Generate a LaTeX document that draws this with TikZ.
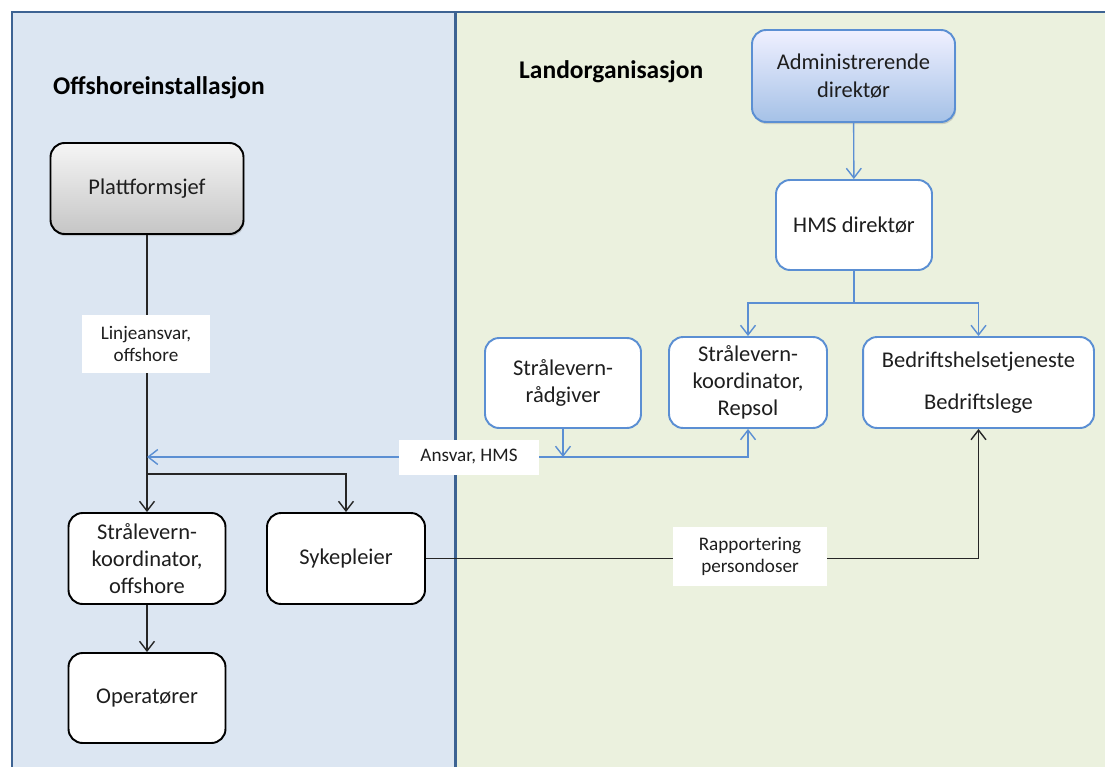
\documentclass[tikz,border=0pt]{standalone}
\usepackage{fontspec}
\setmainfont{Carlito}
\usetikzlibrary{arrows.meta,shadows}

\definecolor{offbg}{HTML}{DCE6F2}
\definecolor{landbg}{HTML}{EBF1DE}
\definecolor{framecol}{HTML}{3D6393}
\definecolor{hmsblue}{HTML}{5B8FD3}
\definecolor{txtcol}{HTML}{1E1E1E}

\begin{document}
\begin{tikzpicture}[x=0.02cm, y=-0.02cm, >={Straight Barb[length=5.5pt,width=8.5pt]},
  box/.style={draw, rounded corners=8pt, align=center, fill=white, line width=1.1pt,
    minimum width=3.14cm, minimum height=1.82cm, text=txtcol, font=\fontsize{12.8}{15.5}\selectfont},
  offbox/.style={box, draw=black},
  landbox/.style={box, draw=hmsblue},
  lbl/.style={fill=white, align=center, inner sep=0pt, text=txtcol, font=\fontsize{10.9}{13}\selectfont},
  heading/.style={anchor=west, text=black, font=\bfseries\fontsize{14.5}{17}\selectfont},
  line/.style={->, line width=0.8pt, black!85},
  hmsline/.style={->, line width=0.8pt, hmsblue}]

  % canvas and the two areas
  \useasboundingbox (0,0) rectangle (1105,767);
  \clip (0,0) rectangle (1105,767);
  \fill[white] (0,0) rectangle (1105,767);
  \fill[offbg] (12,12) rectangle (455,800);
  \fill[landbg] (455,12) rectangle (1120,800);
  \draw[framecol, line width=1.4pt] (12,800) -- (12,12) -- (1120,12);
  \draw[framecol, line width=1.7pt] (455,12) -- (455,800);

  \node[heading] (offhead) at (47,88) {Offshoreinstallasjon};
  \node[heading] (landhead) at (513,72) {Landorganisasjon};

  % offshore side
  \node[offbox, minimum width=3.86cm, top color=gray!8, bottom color=gray!45,
    drop shadow={opacity=0.3, shadow xshift=0.6pt, shadow yshift=-1.2pt}] (plattform) at (147,188.5) {Plattformsjef};
  \node[offbox] (koordoff) at (147,558.5) {Strålevern-\\koordinator,\\offshore};
  \node[offbox, minimum width=3.16cm] (syke) at (346,558.5) {Sykepleier};
  \node[offbox, minimum height=1.8cm] (operat) at (147,698) {Operatører};

  % land side
  \node[landbox, minimum width=4.06cm, minimum height=1.84cm, top color=blue!6!white,
    bottom color=hmsblue!55!white, drop shadow={opacity=0.3, shadow xshift=0.6pt, shadow yshift=-1.2pt}] (admin) at (853.5,76) {Administrerende\\direktør};
  \node[landbox, minimum width=3.12cm, minimum height=1.8cm] (hms) at (854,225) {HMS direktør};
  \node[landbox, minimum width=3.12cm, minimum height=1.8cm] (raadgiver) at (563,383) {Strålevern-\\rådgiver};
  \node[landbox, minimum width=3.16cm] (repsol) at (748,382.5) {Strålevern-\\koordinator,\\Repsol};
  \node[landbox, minimum width=4.62cm] (bht) at (978.5,382.5) {Bedriftshelsetjeneste\\[8pt]Bedriftslege};

  \coordinate (split) at (147,474);
  \coordinate (junc) at (563,457);
  \coordinate (hmsin) at (147,457);
  \coordinate (hmssplit) at (854,303);

  % line responsibility offshore
  \draw[line] (plattform) -- (koordoff);
  \draw[line] (split) -| (syke.north);
  \draw[line] (koordoff) -- (operat);
  \draw[line] (syke.east) -| (bht.south);

  % HMS responsibility
  \draw[hmsline] (admin) -- (hms);
  \draw[hmsline, -] (hms) -- (hmssplit);
  \draw[hmsline] (hmssplit) -| (repsol.north);
  \draw[hmsline] (hmssplit) -| (bht.north);
  \draw[hmsline] (raadgiver) -- (junc);
  \draw[hmsline] (junc) -| (repsol.south);
  \draw[hmsline] (junc) -- (hmsin);

  % labels on the connectors
  \node[lbl, minimum width=2.58cm, minimum height=1.16cm] (linjelbl) at (146,344) {Linjeansvar,\\offshore};
  \node[lbl, minimum width=2.8cm, minimum height=0.7cm] (ansvarlbl) at (469,457) {Ansvar, HMS};
  \node[lbl, minimum width=3.08cm, minimum height=1.18cm] (rapplbl) at (750,556.5) {Rapportering\\persondoser};
\end{tikzpicture}
\end{document}
